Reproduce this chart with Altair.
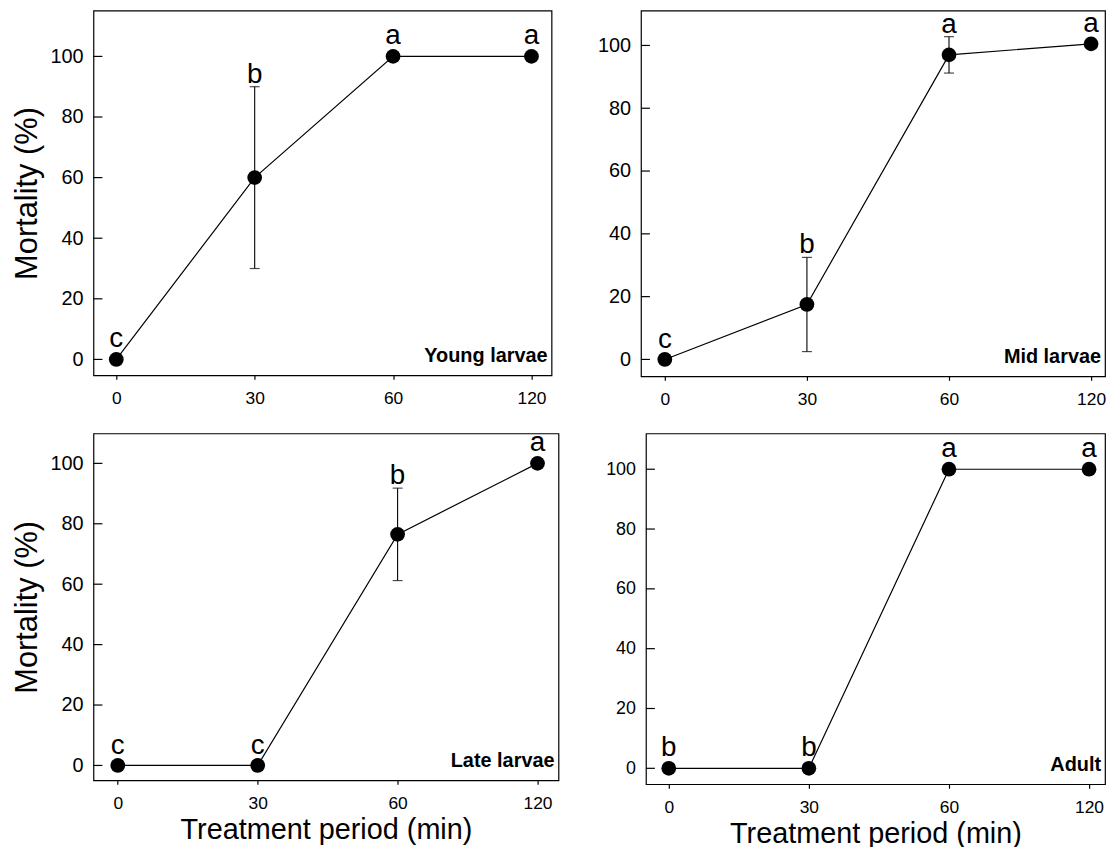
import altair as alt
import pandas as pd

# ---------------- data ----------------
periods = [0, 30, 60, 120]
y_ticks = [0, 20, 40, 60, 80, 100]

young_name = "Young larvae"
young_mean = [0, 60, 100, 100]
young_err = [0, 30, 0, 0]
young_letters = ["c", "b", "a", "a"]

mid_name = "Mid larvae"
mid_mean = [0, 17.5, 97, 100.5]
mid_err = [0, 15, 5.8, 0]
mid_letters = ["c", "b", "a", "a"]

late_name = "Late larvae"
late_mean = [0, 0, 76.5, 100]
late_err = [0, 0, 15.3, 0]
late_letters = ["c", "c", "b", "a"]

adult_name = "Adult"
adult_mean = [0, 0, 100, 100]
adult_err = [0, 0, 0, 0]
adult_letters = ["b", "b", "a", "a"]

FONT = "Liberation Sans"
XTITLE = "Treatment period (min)"
YTITLE = "Mortality (%)"


def panel(name, mean, err, letters, width, height, ydom, xdom, xtitle, ytitle,
          ylab=20):
    df = pd.DataFrame({
        "pos": list(range(len(periods))),
        "period": periods,
        "mean": mean,
        "err": err,
        "letter": letters,
    })
    df["lo"] = df["mean"] - df["err"]
    df["hi"] = df["mean"] + df["err"]

    labexpr = "[" + ",".join("'%s'" % p for p in periods) + "][datum.value]"
    xscale = alt.Scale(domain=list(xdom), nice=False, zero=False)
    yscale = alt.Scale(domain=list(ydom), nice=False, zero=False)

    xaxis = alt.Axis(values=list(range(len(periods))), labelExpr=labexpr,
                     tickSize=4, tickColor="black", tickWidth=1.2,
                     labelPadding=10, labelFontSize=17.5, labelFont=FONT,
                     labelColor="black", domain=False, grid=False,
                     titleFontSize=29, titleFont=FONT, titleFontWeight="normal",
                     titleColor="black", titlePadding=4,
                     title=xtitle if xtitle else None)

    yaxis = alt.Axis(values=y_ticks, ticks=False, tickSize=0, labelPadding=10.5,
                     labelFontSize=ylab, labelFont=FONT, labelColor="black",
                     domain=False, grid=False, titleFontSize=31, titleFont=FONT,
                     titleFontWeight="normal", titleColor="black", titlePadding=6,
                     title=ytitle if ytitle else None)

    def X():
        return alt.X("pos:Q", scale=xscale, axis=xaxis)

    def Y(f):
        return alt.Y(f, scale=yscale, axis=yaxis)

    base = alt.Chart(df)

    line = base.mark_line(color="black", strokeWidth=1.2).encode(
        x=X(), y=Y("mean:Q"))

    ebar = base.transform_filter("datum.err > 0").mark_rule(
        color="black", strokeWidth=1.1).encode(
        x=X(), y=Y("lo:Q"), y2="hi:Q")

    caps = base.transform_filter("datum.err > 0").transform_fold(
        ["lo", "hi"], as_=["k", "v"]).mark_tick(
        color="black", orient="horizontal", size=10, thickness=1.2).encode(
        x=X(), y=Y("v:Q"))

    pts = base.mark_circle(color="black", opacity=1, size=220).encode(
        x=X(), y=Y("mean:Q"))

    let_err = base.transform_filter("datum.err > 0").mark_text(
        font=FONT, fontSize=28, baseline="alphabetic", dy=-4, color="black",
        clip=True).encode(
        x=X(), y=Y("hi:Q"), text="letter:N")
    let_noerr = base.transform_filter("datum.err == 0").mark_text(
        font=FONT, fontSize=28, baseline="alphabetic", dy=-12, color="black",
        clip=True).encode(
        x=X(), y=Y("hi:Q"), text="letter:N")

    yt = alt.Chart(pd.DataFrame({"t": y_ticks})).mark_rule(
        color="black", strokeWidth=1.2).encode(
        y=Y("t:Q"), x=alt.value(0), x2=alt.value(9))

    lab = alt.Chart(pd.DataFrame({"name": [name]})).mark_text(
        font=FONT, fontSize=20, fontWeight="bold", align="right",
        baseline="alphabetic", color="black").encode(
        x=alt.value(width - 4), y=alt.value(height - 13), text="name:N")

    layered = alt.layer(line, yt, ebar, caps, pts, let_err, let_noerr, lab)
    return layered.properties(width=width, height=height)


p1 = panel(young_name, young_mean, young_err, young_letters, 461, 367,
           (-5.25, 115.1), (-0.165, 3.145), None, YTITLE, ylab=20)
p2 = panel(mid_name, mid_mean, mid_err, mid_letters, 467, 368,
           (-5.38, 111.08), (-0.168, 3.098), None, None, ylab=20)
p3 = panel(late_name, late_mean, late_err, late_letters, 468, 349,
           (-4.9, 109.9), (-0.174, 3.15), XTITLE, YTITLE, ylab=20)
p4 = panel(adult_name, adult_mean, adult_err, adult_letters, 462, 353,
           (-5.32, 111.96), (-0.163, 3.114), XTITLE, None, ylab=18)

row1 = alt.hconcat(p1, p2, spacing=90, bounds="flush")
row2 = alt.hconcat(p3, p4, spacing=88, bounds="flush")
chart = alt.vconcat(row1, row2, spacing=23.5).properties(
    padding={"left": 3, "top": -1, "right": 0, "bottom": -5.5}
).configure_view(stroke="black", strokeWidth=1.2)

chart.save("out.html", embed_options={"renderer": "svg", "actions": False})
